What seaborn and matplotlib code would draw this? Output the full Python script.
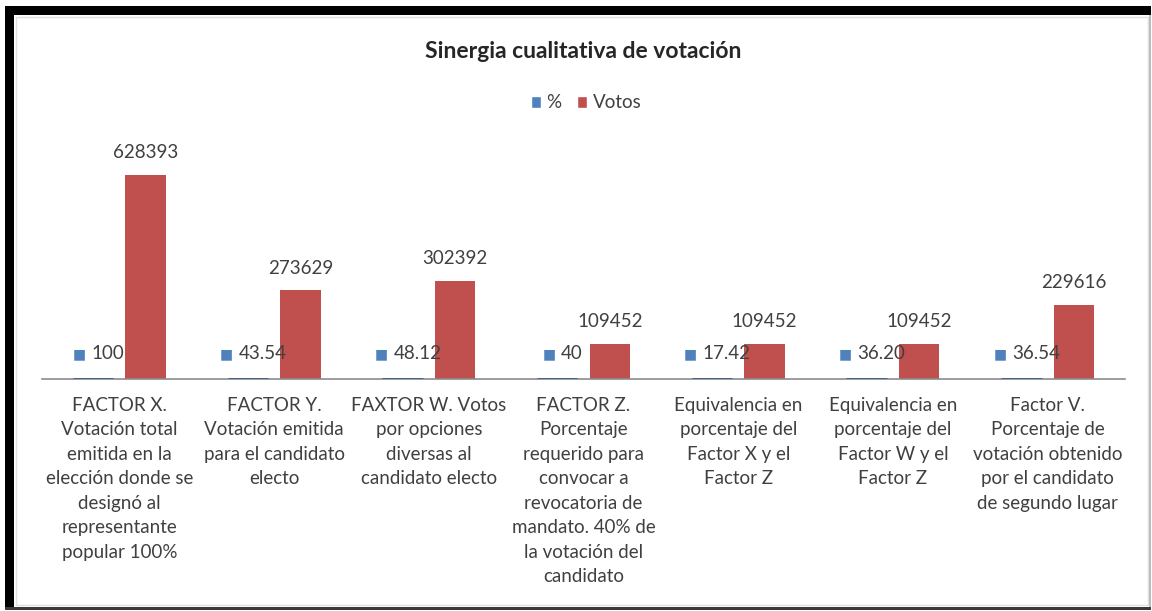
import matplotlib
matplotlib.use("Agg")
import matplotlib.pyplot as plt
from matplotlib.patches import Rectangle, Patch
from matplotlib.offsetbox import TextArea, HPacker, AnnotationBbox
import seaborn as sns
import pandas as pd

# ---- data ----
categories = [
    "FACTOR X.\nVotación total\nemitida en la\nelección donde se\ndesignó al\nrepresentante\npopular 100%",
    "FACTOR Y.\nVotación emitida\npara el candidato\nelecto",
    "FAXTOR W. Votos\npor opciones\ndiversas al\ncandidato electo",
    "FACTOR Z.\nPorcentaje\nrequerido para\nconvocar a\nrevocatoria de\nmandato. 40% de\nla votación del\ncandidato",
    "Equivalencia en\nporcentaje del\nFactor X y el\nFactor Z",
    "Equivalencia en\nporcentaje del\nFactor W y el\nFactor Z",
    "Factor V.\nPorcentaje de\nvotación obtenido\npor el candidato\nde segundo lugar",
]
pct_values = [100, 43.54, 48.12, 40, 17.42, 36.20, 36.54]
pct_labels = ["100", "43.54", "48.12", "40", "17.42", "36.20", "36.54"]
vote_values = [628393, 273629, 302392, 109452, 109452, 109452, 229616]
series_names = ["%", "Votos"]

BLUE = "#4F81BD"
RED = "#C0504D"
TXT = "#404040"

df = pd.DataFrame({
    "cat": categories * 2,
    "serie": [series_names[0]] * len(categories) + [series_names[1]] * len(categories),
    "valor": pct_values + vote_values,
})

sns.set_theme(style="white")
plt.rcParams["font.family"] = ["Lato", "DejaVu Sans"]

W, H = 1152, 611
fig = plt.figure(figsize=(W / 100, H / 100), dpi=100)
fig.patch.set_facecolor("white")

# plot area in pixel coordinates
x0, x1, ybase, ytop = 42, 1125, 379, 152
ax = fig.add_axes([x0 / W, (H - ybase) / H, (x1 - x0) / W, (ybase - ytop) / H])

sns.barplot(data=df, x="cat", y="valor", hue="serie", order=categories,
            hue_order=series_names, palette=[BLUE, RED], saturation=1,
            width=0.68, gap=0.23, ax=ax, legend=False, edgecolor="none")
for p in ax.patches[:len(categories)]:
    p.set_edgecolor("#3A5F8C")
    p.set_linewidth(2)
    p.set_zorder(3)

ax.set_ylim(0, 700000)
ax.set_xlim(-0.5, len(categories) - 0.5)
ax.set_xlabel("")
ax.set_ylabel("")
ax.set_yticks([])
for s in ["left", "right", "top"]:
    ax.spines[s].set_visible(False)
ax.spines["bottom"].set_color("#8C8C8C")
ax.spines["bottom"].set_linewidth(1.2)
ax.tick_params(axis="x", length=0, pad=13)
ax.set_xticks(range(len(categories)))
ax.set_xticklabels(categories, fontsize=13.5, color=TXT, linespacing=1.53, va="top")

# data labels
blue_bars = ax.patches[:len(categories)]
red_bars = ax.patches[len(categories):2 * len(categories)]
for bar, lab in zip(blue_bars, pct_labels):
    cx = bar.get_x() + bar.get_width() / 2
    box = HPacker(children=[
        TextArea("■", textprops=dict(color=BLUE, fontsize=10, family="DejaVu Sans")),
        TextArea(lab, textprops=dict(color=TXT, fontsize=13.5)),
    ], align="center", pad=0, sep=4)
    ab = AnnotationBbox(box, (cx, bar.get_height()), xybox=(4, 18),
                        xycoords="data", boxcoords="offset points",
                        frameon=False, box_alignment=(0.5, 0.5))
    ax.add_artist(ab)
for bar, v in zip(red_bars, vote_values):
    cx = bar.get_x() + bar.get_width() / 2
    ax.annotate(f"{v}", (cx, bar.get_height()), xytext=(0, 16),
                textcoords="offset points", ha="center", va="center",
                fontsize=13.5, color=TXT, annotation_clip=False)

# title and legend
fig.text(583 / W, 1 - 52 / H, "Sinergia cualitativa de votación",
         ha="center", va="center", fontsize=16.5, fontweight="bold", color="#262626")
handles = [Patch(facecolor=BLUE), Patch(facecolor=RED)]
fig.legend(handles, series_names, loc="center", bbox_to_anchor=(586 / W, 1 - 103 / H),
           ncol=2, frameon=False, fontsize=13.5, handlelength=0.55, handleheight=0.55,
           handletextpad=0.3, columnspacing=0.8, labelcolor=TXT)

# frame around the chart
def px_rect(x, y, w, h, **kw):
    fig.add_artist(Rectangle((x / W, 1 - (y + h) / H), w / W, h / H,
                             transform=fig.transFigure, **kw))

px_rect(16, 17, 1132, 588, fill=False, edgecolor="#E0E0E0", linewidth=1)
px_rect(5, 6, 9, 604, facecolor="black", edgecolor="none")       # left
px_rect(5, 6, 1146, 9, facecolor="black", edgecolor="none")      # top
px_rect(1149, 15, 2, 594, facecolor="#BDBDBD", edgecolor="none")  # right
px_rect(5, 607, 1146, 3, facecolor="#3A3A3A", edgecolor="none")  # bottom

fig.savefig("out.png", dpi=100, facecolor="white")
